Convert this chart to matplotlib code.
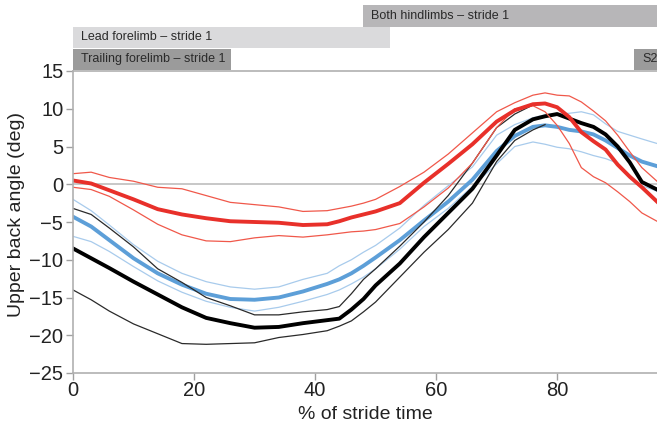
import matplotlib.pyplot as plt
from matplotlib.patches import Rectangle
from matplotlib.transforms import blended_transform_factory

plt.rcParams['font.family'] = ['Liberation Sans', 'DejaVu Sans']

# % of stride time
pct = [0, 3, 6, 10, 14, 18, 22, 26, 30, 34, 38, 42, 44, 46, 48, 50, 54, 58,
       62, 66, 70, 73, 76, 78, 80, 82, 84, 86, 88, 90, 92, 94, 96.5]

red_mean = [0.5, 0.1, -0.8, -2.0, -3.3, -4.0, -4.5, -4.9, -5.0, -5.1, -5.4, -5.3, -4.9, -4.4,
            -4.0, -3.6, -2.5, 0.2, 2.7, 5.3, 8.3, 9.8, 10.6, 10.7, 10.2, 8.9, 6.9, 5.7, 4.6,
            2.6, 1.0, -0.4, -2.3]
red_upper = [1.4, 1.6, 0.9, 0.4, -0.4, -0.6, -1.5, -2.4, -2.7, -3.0, -3.6, -3.5, -3.2, -2.9,
             -2.5, -2.0, -0.3, 1.6, 4.0, 6.8, 9.6, 10.8, 11.8, 12.1, 11.8, 11.7, 10.9, 9.7,
             8.4, 6.5, 4.3, 2.2, 0.4]
red_lower = [-0.4, -0.7, -1.6, -3.4, -5.3, -6.7, -7.5, -7.6, -7.1, -6.8, -7.0, -6.7, -6.5, -6.3,
             -6.2, -6.0, -5.2, -3.0, -0.5, 2.8, 7.5, 10.0, 10.4, 9.6, 7.8, 5.4, 2.2, 1.0, 0.2,
             -1.0, -2.3, -3.8, -4.9]

blue_mean = [-4.3, -5.6, -7.4, -9.8, -11.8, -13.3, -14.5, -15.2, -15.3, -15.0, -14.2, -13.2,
             -12.6, -11.8, -10.8, -9.7, -7.4, -4.8, -2.3, 0.6, 4.4, 6.4, 7.6, 7.8, 7.6, 7.2,
             7.0, 6.6, 5.8, 4.8, 3.8, 3.0, 2.4]
blue_upper = [-2.0, -3.5, -5.4, -8.0, -10.2, -11.8, -12.9, -13.6, -13.9, -13.6, -12.6, -11.8,
              -10.8, -10.0, -9.0, -8.1, -5.8, -2.8, -0.2, 2.3, 6.5, 7.9, 8.8, 9.2, 9.3, 9.4,
              9.6, 9.2, 8.0, 7.0, 6.5, 6.0, 5.4]
blue_lower = [-6.9, -7.6, -8.9, -10.9, -12.8, -14.3, -15.5, -16.3, -16.8, -16.3, -15.5, -14.6,
              -14.0, -13.2, -12.3, -11.2, -8.6, -5.6, -3.2, -0.3, 2.7, 5.0, 5.6, 5.3, 4.9, 4.7,
              4.3, 3.8, 3.4, 2.8, 0.8, -0.2, -0.9]

black_mean = [-8.5, -9.8, -11.1, -12.9, -14.6, -16.3, -17.7, -18.4, -19.0, -18.9, -18.4, -18.0,
              -17.8, -16.6, -15.2, -13.4, -10.5, -7.0, -3.8, -0.6, 3.8, 7.2, 8.6, 9.0, 9.3, 8.7,
              8.1, 7.6, 6.6, 5.0, 2.9, 0.3, -0.7]
# the SD lines of the black group stop at 78 %
black_upper = [-3.2, -4.0, -5.8, -8.3, -11.2, -13.0, -15.0, -16.1, -17.3, -17.3, -16.9, -16.6,
               -16.2, -14.5, -12.6, -11.2, -8.2, -5.0, -1.5, 2.8, 7.5, 9.3, 10.5, 10.6]
black_lower = [-14.0, -15.3, -16.8, -18.5, -19.8, -21.1, -21.2, -21.1, -21.0, -20.3, -19.9,
               -19.4, -18.8, -18.1, -16.9, -15.6, -12.3, -9.0, -6.0, -2.5, 3.0, 5.8, 7.2, 7.9]

# footfall bars: (label, start %, end %, level, colour)
bars = [
    ('Trailing forelimb – stride 1', 0, 26.1, 0, '#9b9b9b'),
    ('Lead forelimb – stride 1', 0, 52.4, 1, '#dadadc'),
    ('Both hindlimbs – stride 1', 47.9, 100, 2, '#b7b6b8'),
    ('S2', 92.7, 100, 0, '#9b9b9b'),
]

fig = plt.figure(figsize=(6.57, 4.25), dpi=100)
ax = fig.add_axes([73 / 657, 52 / 425, 584 / 657, 302 / 425])

ax.axhline(0, color='#bdbdbd', lw=1.2, zorder=1)

thin = 0.9
thick = 2.8
ax.plot(pct, blue_upper, color='#a8cbec', lw=thin)
ax.plot(pct, blue_lower, color='#a8cbec', lw=thin)
ax.plot(pct, blue_mean, color='#5d9fd8', lw=thick)
n = len(black_upper)
ax.plot(pct[:n], black_upper, color='#2a2a2a', lw=thin)
ax.plot(pct[:n], black_lower, color='#2a2a2a', lw=thin)
ax.plot(pct, black_mean, color='black', lw=thick)
ax.plot(pct, red_upper, color='#f0584a', lw=thin)
ax.plot(pct, red_lower, color='#f0584a', lw=thin)
ax.plot(pct, red_mean, color='#e8302a', lw=thick)

ax.set_xlim(0, 96.5)
ax.set_ylim(-25, 15)
ax.set_xticks([0, 20, 40, 60, 80])
ax.set_yticks(range(-25, 16, 5))
ax.set_yticklabels([str(v).replace('-', '\u2212') for v in range(-25, 16, 5)])
ax.tick_params(labelsize=14.5, colors='#a0a0a0', labelcolor='#222222', length=5, width=1)
ax.tick_params(axis='y', pad=2)
ax.tick_params(axis='x', pad=1)
for side in ['left', 'bottom', 'top']:
    ax.spines[side].set_color('#b0b0b0')
    ax.spines[side].set_linewidth(1.2)
ax.spines['right'].set_visible(False)

ax.set_xlabel('% of stride time', fontsize=14, color='#222222', labelpad=4)
ax.set_ylabel('Upper back angle (deg)', fontsize=14, color='#222222')
ax.yaxis.set_label_coords(-0.082, 0.525)

# bars above the plot: x in data, y in axes fraction
trans = blended_transform_factory(ax.transData, ax.transAxes)
h = 0.072
for label, x0, x1, level, col in bars:
    y0 = 1.0 + 0.003 + level * h
    ax.add_patch(Rectangle((x0, y0), x1 - x0, h - 0.002, transform=trans,
                           facecolor=col, edgecolor='none', clip_on=False))
    ax.text(x0 + 1.4, y0 + h / 2, label, transform=trans, fontsize=9,
            color='#2a2a2a', va='center', ha='left', clip_on=False)

fig.savefig('out.png', dpi=100)
